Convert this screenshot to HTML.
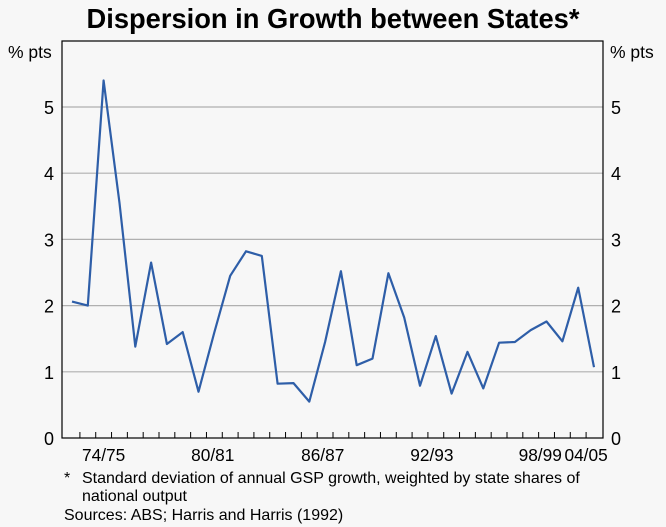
<!DOCTYPE html>
<html><head><meta charset="utf-8"><style>
body{margin:0;background:#f7f7f7;font-family:"Liberation Sans",Arial,sans-serif}
svg{display:block}
text{font-family:"Liberation Sans",Arial,sans-serif;fill:#000}
</style></head><body>
<svg width="666" height="527" id="chart">
<rect width="666" height="527" fill="#f7f7f7"/>
<text x="333" y="28" text-anchor="middle" font-size="27.3" font-weight="bold">Dispersion in Growth between States*</text>
<text x="8" y="58" font-size="17.5">% pts</text>
<text x="610" y="58" font-size="17.5">% pts</text>
<g id="grid"></g>
<g id="ticks"></g>
<path id="line" fill="none" stroke="#2e5ea8" stroke-width="2.2" stroke-linejoin="round"/>
<rect x="62" y="41" width="541" height="397" fill="none" stroke="#000" stroke-width="1.2"/>
<g font-size="16">
<text x="64" y="483">*</text>
<text x="82" y="483">Standard deviation of annual GSP growth, weighted by state shares of</text>
<text x="82" y="501">national output</text>
<text x="64" y="520">Sources: ABS; Harris and Harris (1992)</text>
</g>
</svg>
<script>
const values=[2.06,2.0,5.4,3.55,1.38,2.65,1.42,1.6,0.7,1.6,2.45,2.82,2.75,0.82,0.83,0.55,1.45,2.52,1.1,1.2,2.49,1.82,0.79,1.54,0.67,1.3,0.75,1.44,1.45,1.63,1.76,1.46,2.27,1.07];
const yTicks=[0,1,2,3,4,5];
const xLabels=["74/75","80/81","86/87","92/93","98/99","04/05"];
const xLabelIdx=[2,8.9,15.85,22.75,29.6,32.5];
const NS="http://www.w3.org/2000/svg";
const L=62,R=603,T=41,B=438;
const x0=72,dx=(594-72)/33;
const X=i=>x0+i*dx;
const Y=v=>B-v*(B-107)/5;
const svg=document.getElementById('chart');
const grid=document.getElementById('grid'),ticks=document.getElementById('ticks');
function mk(tag,attrs,parent){const e=document.createElementNS(NS,tag);for(const k in attrs)e.setAttribute(k,attrs[k]);parent.appendChild(e);return e;}
yTicks.forEach(v=>{
  if(v>0){const g=mk('line',{x1:L,x2:R,y1:Y(v),y2:Y(v),stroke:'#b0b0b0','stroke-width':1.2},grid);
  
  }
  const a=mk('text',{x:L-8,y:Y(v)+7,'text-anchor':'end','font-size':18},svg);a.textContent=v;
  
  
  const b=mk('text',{x:R+8,y:Y(v)+7,'font-size':18},svg);b.textContent=v;
  
  
});
for(let i=0;i<values.length-1;i++){
  const t=mk('line',{x1:X(i+0.5),x2:X(i+0.5),y1:B,y2:B-6,stroke:'#000','stroke-width':1},ticks);
  
  
}
xLabels.forEach((s,k)=>{
  const t=mk('text',{x:X(xLabelIdx[k]),y:B+23,'text-anchor':'middle','font-size':17.3},svg);t.textContent=s;
  
  
});
document.getElementById('line').setAttribute('d',values.map((v,i)=>(i?'L':'M')+X(i).toFixed(1)+' '+Y(v).toFixed(1)).join(' '));
</script>
</body></html>
